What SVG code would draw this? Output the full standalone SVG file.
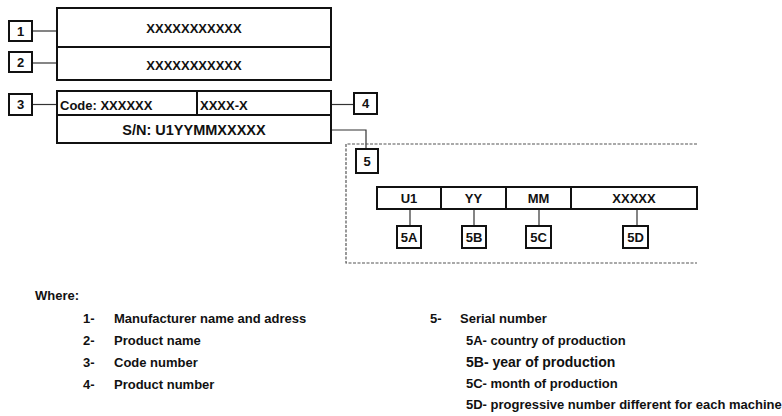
<svg xmlns="http://www.w3.org/2000/svg" width="782" height="416" viewBox="0 0 782 416">
<style>
.box{fill:#fff;stroke:#111;stroke-width:2}
.lbl{fill:#fff;stroke:#111;stroke-width:2}
.t{font-family:"Liberation Sans",Arial,sans-serif;font-weight:bold;font-size:13px;fill:#111}
.c{text-anchor:middle}
.conn{fill:none;stroke:#333;stroke-width:1.2}
.dash{fill:none;stroke:#555;stroke-width:1.2;stroke-dasharray:3 1.5}
</style>
<rect width="782" height="416" fill="#fff"/>
<g id="connectors">
<line class="conn" x1="32" y1="31" x2="57" y2="31"/>
<line class="conn" x1="32" y1="63" x2="57" y2="63"/>
<line class="conn" x1="32" y1="104.5" x2="60" y2="104.5"/>
<line class="conn" x1="331" y1="104.5" x2="354" y2="104.5"/>
<polyline class="conn" points="331,130 366,130 366,149"/>
<line class="conn" x1="410" y1="209" x2="410" y2="226"/>
<line class="conn" x1="474" y1="209" x2="474" y2="226"/>
<line class="conn" x1="539" y1="209" x2="539" y2="226"/>
<line class="conn" x1="637" y1="209" x2="637" y2="226"/>
</g>
<g id="serial-frame">
<polyline class="dash" points="697,144 346,144 346,263 697,263"/>
</g>
<g id="box-manufacturer">
<rect class="box" x="57" y="8" width="274" height="39"/>
<text class="t c" x="194" y="33">XXXXXXXXXXX</text>
</g>
<g id="box-product">
<rect class="box" x="57" y="47" width="274" height="33"/>
<text class="t c" x="194" y="70">XXXXXXXXXXX</text>
</g>
<g id="box-code">
<rect class="box" x="57" y="91" width="274" height="52"/>
<line class="box" x1="57" y1="115" x2="331" y2="115"/>
<line class="box" x1="197" y1="91" x2="197" y2="115"/>
<text class="t" x="60" y="110">Code: XXXXXX</text>
<text class="t" x="200" y="110">XXXX-X</text>
<text class="t c" x="194" y="135" style="font-size:14.5px">S/N: U1YYMMXXXXX</text>
</g>
<g id="label-1"><rect class="lbl" x="9" y="21" width="23" height="20"/><text class="t c" x="20.5" y="36">1</text></g>
<g id="label-2"><rect class="lbl" x="9" y="52" width="23" height="20"/><text class="t c" x="20.5" y="67">2</text></g>
<g id="label-3"><rect class="lbl" x="9" y="94" width="23" height="21"/><text class="t c" x="20.5" y="109">3</text></g>
<g id="label-4"><rect class="lbl" x="354" y="93" width="23" height="21"/><text class="t c" x="365.5" y="108">4</text></g>
<g id="label-5"><rect class="lbl" x="356" y="149" width="22" height="24"/><text class="t c" x="367" y="166">5</text></g>
<g id="serial-box">
<rect class="box" x="377" y="187" width="320" height="22"/>
<line class="box" x1="441" y1="187" x2="441" y2="209"/>
<line class="box" x1="506" y1="187" x2="506" y2="209"/>
<line class="box" x1="571" y1="187" x2="571" y2="209"/>
<text class="t c" x="409" y="203">U1</text>
<text class="t c" x="473.5" y="203">YY</text>
<text class="t c" x="538.5" y="203">MM</text>
<text class="t c" x="634" y="203">XXXXX</text>
</g>
<g id="label-5A"><rect class="lbl" x="397" y="226" width="24" height="22"/><text class="t c" x="409" y="242">5A</text></g>
<g id="label-5B"><rect class="lbl" x="462" y="226" width="24" height="22"/><text class="t c" x="474" y="242">5B</text></g>
<g id="label-5C"><rect class="lbl" x="526" y="226" width="25" height="22"/><text class="t c" x="538.5" y="242">5C</text></g>
<g id="label-5D"><rect class="lbl" x="623" y="226" width="25" height="22"/><text class="t c" x="635.5" y="242">5D</text></g>
<g id="legend">
<text class="t" x="35" y="300">Where:</text>
<text class="t" x="83" y="323">1-</text><text class="t" x="114" y="323">Manufacturer name and adress</text>
<text class="t" x="83" y="345">2-</text><text class="t" x="114" y="345">Product name</text>
<text class="t" x="83" y="367">3-</text><text class="t" x="114" y="367">Code number</text>
<text class="t" x="83" y="389">4-</text><text class="t" x="114" y="389">Product number</text>
<text class="t" x="430" y="323">5-</text><text class="t" x="460" y="323">Serial number</text>
<text class="t" x="466" y="345">5A- country of production</text>
<text class="t" x="466" y="367" style="font-size:14px">5B- year of production</text>
<text class="t" x="466" y="388">5C- month of production</text>
<text class="t" x="466" y="409">5D- progressive number different for each machine</text>
</g>
</svg>
